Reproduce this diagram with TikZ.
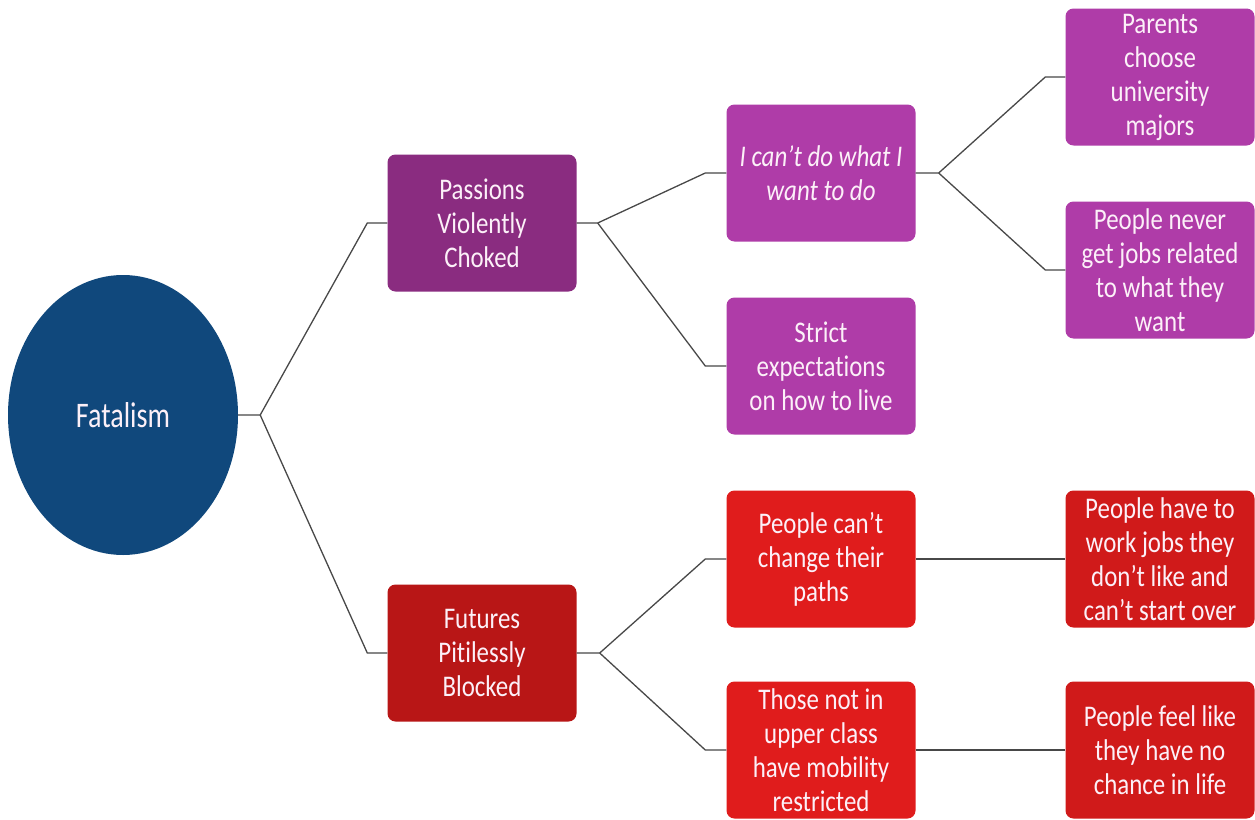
\documentclass[tikz,border=0pt]{standalone}
\usepackage{fontspec}
\setmainfont{Carlito}[FakeStretch=0.83, Ligatures={TeX,NoCommon}]
\newfontfamily\rootfont{Carlito}[FakeStretch=0.78]
\usetikzlibrary{shapes.geometric}

\definecolor{rootblue}{RGB}{16,72,124}
\definecolor{plumdark}{RGB}{138,44,128}
\definecolor{plumlight}{RGB}{175,60,168}
\definecolor{reddark}{RGB}{184,22,22}
\definecolor{redmid}{RGB}{224,28,28}
\definecolor{redleaf}{RGB}{208,26,26}
\definecolor{linkgray}{RGB}{72,72,72}
\definecolor{labeltext}{RGB}{252,240,248}

\tikzset{
  topic/.style={rectangle, rounded corners=8pt, minimum width=189pt,
    minimum height=137pt, inner sep=0pt, align=center, text=labeltext,
    font=\fontsize{30}{34}\selectfont},
  plumhead/.style={topic, fill=plumdark},
  plumbox/.style={topic, fill=plumlight},
  redhead/.style={topic, fill=reddark},
  redbox/.style={topic, fill=redmid},
  redend/.style={topic, fill=redleaf},
  link/.style={draw=linkgray, line width=1.3pt},
}

\begin{document}
\begin{tikzpicture}[x=1pt, y=-1pt]
  \useasboundingbox (0,0) rectangle (1255,819);
  \fill[white] (0,0) rectangle (1255,819);

  % root
  \node[ellipse, fill=rootblue, minimum width=230pt, minimum height=280pt,
        inner sep=0pt, text=labeltext, font=\rootfont\fontsize{36}{40}\selectfont]
        (fat) at (123,415) {Fatalism};

  % first level
  \node[plumhead] (pas) at (482,223) {Passions\\Violently\\Choked};
  \node[redhead]  (fut) at (482,653) {Futures\\Pitilessly\\Blocked};

  % second level
  \node[plumbox] (icant)  at (821,173) {\itshape I can't do what I\\\itshape want to do};
  \node[plumbox] (strict) at (821,366) {Strict\\expectations\\on how to live};
  \node[redbox]  (paths)  at (821,559) {People can't\\change their\\paths};
  \node[redbox]  (class)  at (821,750) {Those not in\\upper class\\have mobility\\restricted};

  % third level
  \node[plumbox] (majors) at (1160,77)  {Parents\\choose\\university\\majors};
  \node[plumbox] (jobs)   at (1160,270) {People never\\get jobs related\\to what they\\want};
  \node[redend]  (over)   at (1160,559) {People have to\\work jobs they\\don't like and\\can't start over};
  \node[redend]  (chance) at (1160,750) {People feel like\\they have no\\chance in life};

  % connectors
  \draw[link] (fat.east) -- ++(22,0) coordinate (f0) -- ([xshift=-20pt]pas.west) -- (pas.west);
  \draw[link] (f0) -- ([xshift=-20pt]fut.west) -- (fut.west);

  \draw[link] (pas.east) -- ++(21,0) coordinate (p0) -- ([xshift=-21pt]icant.west) -- (icant.west);
  \draw[link] (p0) -- ([xshift=-21pt]strict.west) -- (strict.west);

  \draw[link] (fut.east) -- ++(23,0) coordinate (u0) -- ([xshift=-21pt]paths.west) -- (paths.west);
  \draw[link] (u0) -- ([xshift=-21pt]class.west) -- (class.west);

  \draw[link] (icant.east) -- ++(23,0) coordinate (i0) -- ([xshift=-20pt]majors.west) -- (majors.west);
  \draw[link] (i0) -- ([xshift=-20pt]jobs.west) -- (jobs.west);

  \draw[link] (paths.east) -- (over.west);
  \draw[link] (class.east) -- (chance.west);
\end{tikzpicture}
\end{document}
